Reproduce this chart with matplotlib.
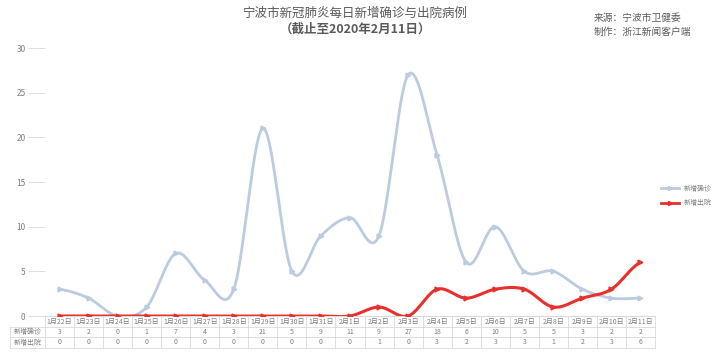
import numpy as np
import matplotlib.pyplot as plt
from matplotlib.transforms import blended_transform_factory

plt.rcParams['font.family'] = ['Noto Sans CJK SC', 'DejaVu Sans']

dates = ['1月22日', '1月23日', '1月24日', '1月25日', '1月26日', '1月27日', '1月28日',
         '1月29日', '1月30日', '1月31日', '2月1日', '2月2日', '2月3日', '2月4日',
         '2月5日', '2月6日', '2月7日', '2月8日', '2月9日', '2月10日', '2月11日']
confirmed = [3, 2, 0, 1, 7, 4, 3, 21, 5, 9, 11, 9, 27, 18, 6, 10, 5, 5, 3, 2, 2]
discharged = [0, 0, 0, 0, 0, 0, 0, 0, 0, 0, 0, 1, 0, 3, 2, 3, 3, 1, 2, 3, 6]
series_names = ['新增确诊', '新增出院']

BLUE = '#bccbe0'
RED = '#e8302c'
GRAY = '#7f7f7f'


def smooth(y, n=20):
    # catmull-rom through the points, similar to excel's smoothed line
    y = np.asarray(y, float)
    x = np.arange(len(y), dtype=float)
    p = np.concatenate([[y[0]], y, [y[-1]]])
    xs, ys = [], []
    for i in range(len(y) - 1):
        p0, p1, p2, p3 = p[i], p[i + 1], p[i + 2], p[i + 3]
        t = np.linspace(0, 1, n, endpoint=False)
        yy = 0.5 * ((2 * p1) + (-p0 + p2) * t + (2 * p0 - 5 * p1 + 4 * p2 - p3) * t ** 2
                    + (-p0 + 3 * p1 - 3 * p2 + p3) * t ** 3)
        xs.append(x[i] + t)
        ys.append(yy)
    xs.append([x[-1]])
    ys.append([y[-1]])
    return np.concatenate(xs), np.concatenate(ys)


fig = plt.figure(figsize=(7.2, 3.59), dpi=100)
ax = fig.add_axes([45 / 720, 1 - 316 / 359, 610 / 720, 268 / 359])

n = len(dates)
x = np.arange(n)
for vals, col, lw in [(confirmed, BLUE, 2.0), (discharged, RED, 2.2)]:
    sx, sy = smooth(vals)
    ax.plot(sx, sy, color=col, lw=lw, solid_capstyle='round', zorder=3)
    ax.plot(x, vals, ls='none', marker='>', ms=3.5, color=col, zorder=4)

ax.set_xlim(-0.5, n - 0.5)
ax.set_ylim(0, 30)
ax.set_yticks(range(0, 31, 5))
ax.set_xticks([])
for s in ['top', 'right', 'left']:
    ax.spines[s].set_visible(False)
ax.spines['bottom'].set_color('#d9d9d9')
ax.tick_params(axis='y', length=12, width=0.6, color='#d9d9d9', labelsize=6,
               labelcolor=GRAY, pad=2)

# legend
hl = [plt.Line2D([], [], color=BLUE, lw=2, marker='>', ms=3, markevery=[1]),
      plt.Line2D([], [], color=RED, lw=2, marker='>', ms=3, markevery=[1])]
fig.legend(hl, series_names, loc='center left', bbox_to_anchor=(655 / 720, 1 - 196 / 359),
           frameon=False, fontsize=5, labelcolor=GRAY, handlelength=2.6,
           handletextpad=0.6, labelspacing=0.9)

# data table under the chart
tr = blended_transform_factory(ax.transData, fig.transFigure)
row_edges = [316, 327, 337, 348]
ry = [1 - v / 359 for v in row_edges]
left_fig = 10 / 720
lc = '#d9d9d9'
for k, yy in enumerate(ry):
    if k == 0:
        ax.plot([-0.5, n - 0.5], [yy, yy], transform=tr, color=lc, lw=0.6, clip_on=False)
    else:
        fig.add_artist(plt.Line2D([left_fig, ax.get_position().x1], [yy, yy], color=lc, lw=0.6))
fig.add_artist(plt.Line2D([left_fig, left_fig], [ry[1], ry[3]], color=lc, lw=0.6))
for i in range(n + 1):
    ax.plot([i - 0.5, i - 0.5], [ry[0], ry[3]], transform=tr, color=lc, lw=0.6, clip_on=False)

for i in range(n):
    ax.text(i, (ry[0] + ry[1]) / 2, dates[i], transform=tr, ha='center', va='center',
            fontsize=5, color=GRAY)
    ax.text(i, (ry[1] + ry[2]) / 2, str(confirmed[i]), transform=tr, ha='center', va='center',
            fontsize=5, color=GRAY)
    ax.text(i, (ry[2] + ry[3]) / 2, str(discharged[i]), transform=tr, ha='center', va='center',
            fontsize=5, color=GRAY)
for k, name in enumerate(series_names):
    fig.text((left_fig + ax.get_position().x0) / 2, (ry[k + 1] + ry[k + 2]) / 2, name,
             ha='center', va='center', fontsize=5, color=GRAY)

# titles
fig.text(355 / 720, 1 - 13 / 359, '宁波市新冠肺炎每日新增确诊与出院病例', ha='center',
         va='center', fontsize=9, color='#595959')
fig.text(355 / 720, 1 - 29 / 359, '（截止至2020年2月11日）', ha='center',
         va='center', fontsize=9, color='#595959', fontweight='bold')
fig.text(594 / 720, 1 - 18 / 359, '来源：宁波市卫健委', ha='left', va='center',
         fontsize=7, color='#595959')
fig.text(594 / 720, 1 - 32 / 359, '制作：浙江新闻客户端', ha='left', va='center',
         fontsize=7, color='#595959')

fig.savefig('out.png', dpi=100)
